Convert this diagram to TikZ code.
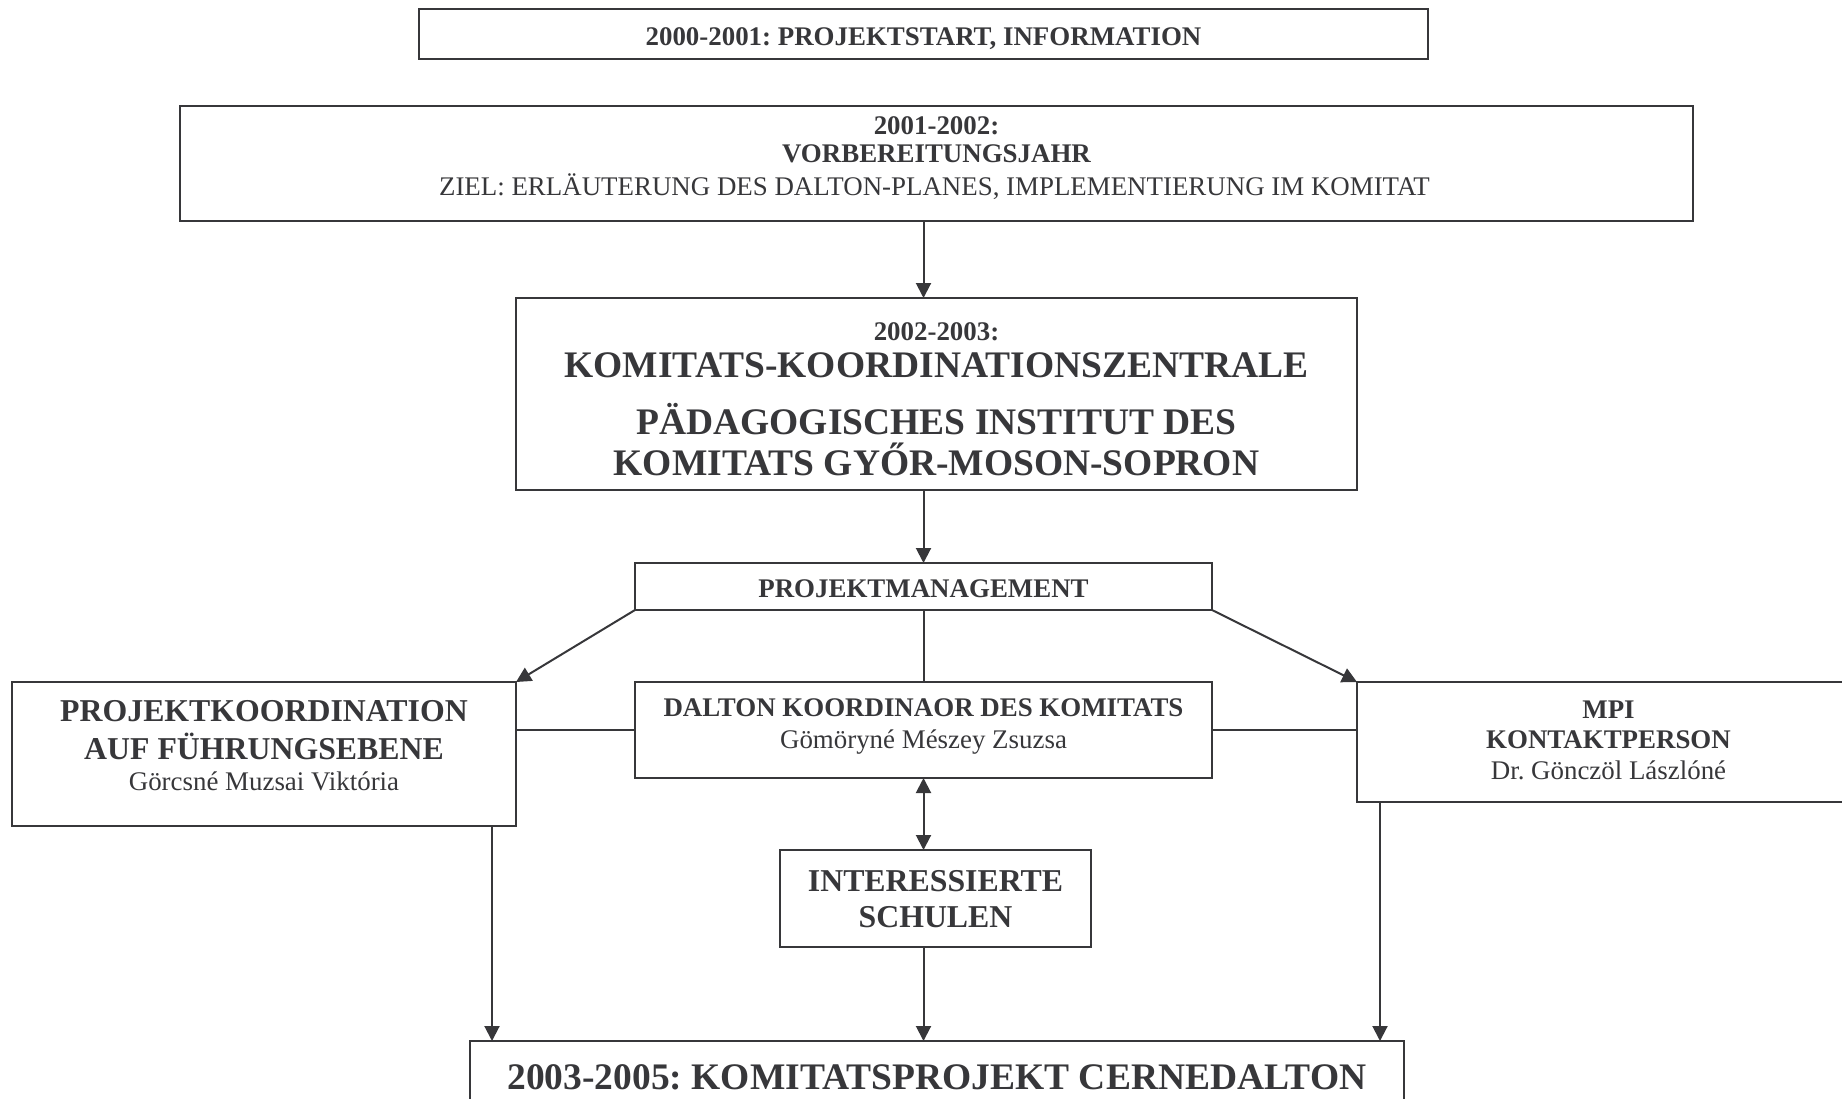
\documentclass[tikz,border=0pt]{standalone}
\usepackage{fontspec}
\setmainfont{Liberation Serif}
\usetikzlibrary{arrows.meta,calc}
\definecolor{ink}{RGB}{55,55,58}
\frenchspacing
\begin{document}
\begin{tikzpicture}[x=0.5pt,y=-0.5pt,
  box/.style={draw=ink, line width=1.1pt, inner sep=0pt, outer sep=0pt},
  conn/.style={draw=ink, line width=1pt},
  arr/.style={conn, -{Triangle[length=7.5pt,width=7.5pt]}},
  darr/.style={conn, {Triangle[length=7.5pt,width=7.5pt]}-{Triangle[length=7.5pt,width=7.5pt]}},
  txt/.style={anchor=base, text=ink, inner sep=0pt},
  sb/.style={txt, font=\fontsize{13.45}{15}\selectfont\bfseries},
  sr/.style={txt, font=\fontsize{13.45}{15}\selectfont},
  mb/.style={txt, font=\fontsize{15.9}{18}\selectfont\bfseries},
  qb/.style={txt, font=\fontsize{15.9}{18}\selectfont\bfseries},
  lb/.style={txt, font=\fontsize{18.75}{21}\selectfont\bfseries},
]
\useasboundingbox (0,0) rectangle (1842,1098);
\clip (0,0) rectangle (1842,1098);

% boxes
\node[box, minimum width=504.5pt, minimum height=25pt] (b1) at (923.5,34) {};
\node[box, minimum width=756.5pt, minimum height=57.5pt] (b2) at (936.5,163.5) {};
\node[box, minimum width=420.5pt, minimum height=96pt] (b3) at (936.5,394) {};
\node[box, minimum width=288.5pt, minimum height=23.5pt] (pm) at (923.5,586.5) {};
\node[box, minimum width=252pt, minimum height=72pt] (pk) at (264,754) {};
\node[box, minimum width=288.5pt, minimum height=48pt] (dalton) at (923.5,730) {};
\node[box, minimum width=251.5pt, minimum height=60pt] (mpi) at (1608.5,742) {};
\node[box, minimum width=155.5pt, minimum height=48.5pt] (schulen) at (935.5,898.5) {};
\node[box, minimum width=467pt, minimum height=90pt] (bot) at (937,1131) {};

% texts
\node[sb] (t1) at (923.5,45) {2000-2001: PROJEKTSTART, INFORMATION};

\node[sb] (t2a) at (936.5,134.4) {2001-2002:};
\node[sb] (t2b) at (936.5,162.6) {VORBEREITUNGSJAHR};
\node[sr] (t2c) at (934.5,195.5) {ZIEL: ERLÄUTERUNG DES DALTON-PLANES, IMPLEMENTIERUNG IM KOMITAT};

\node[sb] (t3a) at (936.5,340) {2002-2003:};
\node[lb] (t3b) at (936.5,377.3) {KOMITATS-KOORDINATIONSZENTRALE};
\node[lb] (t3c) at (936.5,434) {PÄDAGOGISCHES INSTITUT DES};
\node[lb] (t3d) at (936.5,475) {KOMITATS GYŐR-MOSON-SOPRON};

\node[sb] (tpm) at (923.5,597.7) {PROJEKTMANAGEMENT};

\node[mb] (tpka) at (264,721.7) {PROJEKTKOORDINATION};
\node[mb] (tpkb) at (264,759.3) {AUF FÜHRUNGSEBENE};
\node[sr] (tpkc) at (264,790.7) {Görcsné Muzsai Viktória};

\node[sb] (tda) at (923.5,716.7) {DALTON KOORDINAOR DES KOMITATS};
\node[sr] (tdb) at (923.5,748.3) {Gömöryné Mészey Zsuzsa};

\node[sb] (tma) at (1608.5,718) {MPI};
\node[sb] (tmb) at (1608.5,748.3) {KONTAKTPERSON};
\node[sr] (tmc) at (1608.5,779.3) {Dr. Gönczöl Lászlóné};

\node[qb] (tsa) at (935.5,891) {INTERESSIERTE};
\node[qb] (tsb) at (935.5,927.7) {SCHULEN};

\node[lb] (tbot) at (937,1089) {2003-2005: KOMITATSPROJEKT CERNEDALTON};

% connectors
\coordinate (pkd) at ($(pk.south east)+(-24,0)$);
\coordinate (mpid) at ($(mpi.south west)+(23,0)$);

\draw[arr] (b2.south -| pm.center) -- (b3.north -| pm.center);
\draw[arr] (b3.south -| pm.center) -- (pm.north);
\draw[arr] (pm.south west) -- (pk.north east);
\draw[arr] (pm.south east) -- (mpi.north west);
\draw[conn] (pm.south) -- (dalton.north);
\draw[conn] (dalton.west) -- (dalton.west -| pk.east);
\draw[conn] (dalton.east) -- (dalton.east -| mpi.west);
\draw[darr] (dalton.south -| pm.center) -- (schulen.north -| pm.center);
\draw[arr] (pkd) -- (pkd |- bot.north);
\draw[arr] (schulen.south -| pm.center) -- (bot.north -| pm.center);
\draw[arr] (mpid) -- (mpid |- bot.north);
\end{tikzpicture}
\end{document}
